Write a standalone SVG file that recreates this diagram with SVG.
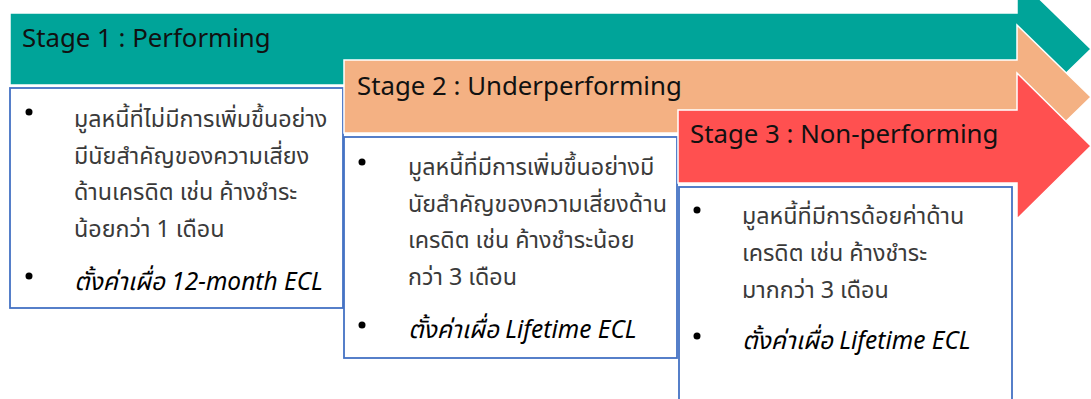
<svg xmlns="http://www.w3.org/2000/svg" width="1091" height="399" viewBox="0 0 1091 399">
<style>
.arrow{stroke:#ffffff;stroke-width:1.5}
.s1{fill:#00A499}
.s2{fill:#F4B183}
.s3{fill:#FF5050}
.box{fill:#ffffff;stroke:#4472C4;stroke-width:1.8}
.title{font-family:"Noto Sans","Open Sans",sans-serif;font-size:25.8px;fill:#111}
.body{font-family:"Noto Sans","Noto Sans Thai","Leelawadee UI",sans-serif;font-size:23.3px;fill:#3a3a3a}
.ital{font-family:"Noto Sans","Noto Sans Thai","Leelawadee UI",sans-serif;font-size:24.5px;font-style:italic;fill:#000}
.dot{fill:#000}
</style>
<g id="stage1">
<path class="arrow s1" d="M10,13 H1017 V-23 L1091,49 L1017,121 V85 H10 Z"/>
<rect class="box" x="10" y="88" width="333" height="220"/>
<text class="title" x="22" y="47">Stage 1 : Performing</text>
<circle class="dot" cx="29" cy="112" r="3.5"/>
<text class="body" x="74" y="127">มูลหนี้ที่ไม่มีการเพิ่มขึ้นอย่าง</text>
<text class="body" x="74" y="164">มีนัยสำคัญของความเสี่ยง</text>
<text class="body" x="74" y="200">ด้านเครดิต เช่น ค้างชำระ</text>
<text class="body" x="74" y="237">น้อยกว่า 1 เดือน</text>
<circle class="dot" cx="29" cy="276" r="3.5"/>
<text class="ital" x="74" y="290">ตั้งค่าเผื่อ 12-month ECL</text>
</g>
<g id="stage2">
<path class="arrow s2" d="M344,60 H1017 V25 L1091,97 L1017,169 V133 H344 Z"/>
<rect class="box" x="344" y="137" width="333" height="221"/>
<text class="title" x="357" y="95">Stage 2 : Underperforming</text>
<circle class="dot" cx="362" cy="162" r="3.5"/>
<text class="body" x="408" y="175">มูลหนี้ที่มีการเพิ่มขึ้นอย่างมี</text>
<text class="body" x="408" y="212">นัยสำคัญของความเสี่ยงด้าน</text>
<text class="body" x="408" y="248">เครดิต เช่น ค้างชำระน้อย</text>
<text class="body" x="408" y="285">กว่า 3 เดือน</text>
<circle class="dot" cx="362" cy="325" r="3.5"/>
<text class="ital" x="408" y="338">ตั้งค่าเผื่อ Lifetime ECL</text>
</g>
<g id="stage3">
<path class="arrow s3" d="M678,110 H1017 V73 L1091,146 L1017,219 V183 H678 Z"/>
<rect class="box" x="679" y="187" width="333" height="230"/>
<text class="title" x="690" y="143">Stage 3 : Non-performing</text>
<circle class="dot" cx="697" cy="210" r="3.5"/>
<text class="body" x="742" y="224">มูลหนี้ที่มีการด้อยค่าด้าน</text>
<text class="body" x="742" y="261">เครดิต เช่น ค้างชำระ</text>
<text class="body" x="742" y="298">มากกว่า 3 เดือน</text>
<circle class="dot" cx="697" cy="336" r="3.5"/>
<text class="ital" x="742" y="349">ตั้งค่าเผื่อ Lifetime ECL</text>
</g>
<g id="connectors"/>
</svg>
